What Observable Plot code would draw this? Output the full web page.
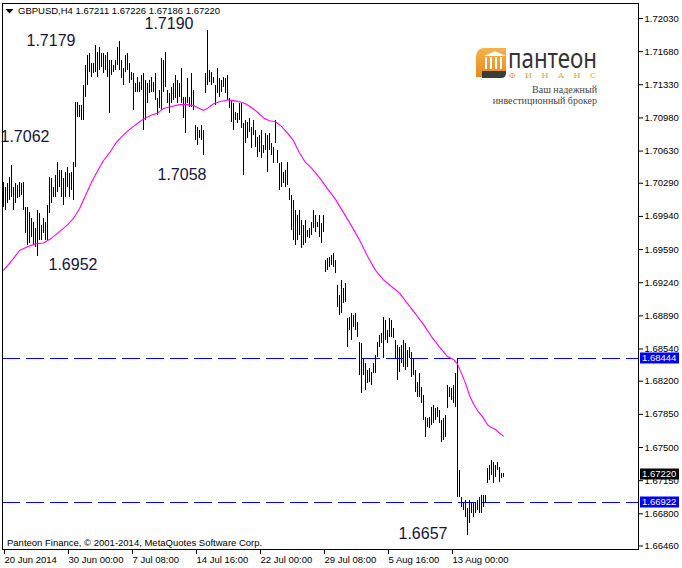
<!DOCTYPE html>
<html><head><meta charset="utf-8">
<script src="https://cdn.jsdelivr.net/npm/d3@7"></script>
<script src="https://cdn.jsdelivr.net/npm/@observablehq/plot@0.6"></script>
<style>
body{margin:0;background:#fff;}
#wrap{position:relative;width:682px;height:568px;overflow:hidden;background:#fff;}
.ov{position:absolute;white-space:nowrap;font-family:"Liberation Sans",Arial,sans-serif;}
</style></head><body><div id="wrap"></div>
<script>
const symbolName = "GBPUSD,H4";
const headerQuote = ["1.67211", "1.67226", "1.67186", "1.67220"];
const copyright = "Panteon Finance, © 2001-2014, MetaQuotes Software Corp.";
const brandName = "пантеон";
const brandSub = "ФИНАНС";
const tagline = ["Ваш надежный", "инвестиционный брокер"];

const barHigh = [
1.7030,1.7025,1.7029,1.7035,1.7048,1.7025,1.7029,1.7027,1.7030,1.7029,
1.7030,1.7003,1.7003,1.6998,1.6992,1.6988,1.6981,1.7000,1.6997,1.6984,
1.6992,1.6988,1.7006,1.7035,1.7034,1.7025,1.7037,1.7051,1.7042,1.7042,
1.7034,1.7040,1.7046,1.7039,1.7040,1.7051,1.7114,1.7114,1.7111,1.7111,
1.7132,1.7153,1.7164,1.7166,1.7155,1.7155,1.7174,1.7167,1.7172,1.7166,
1.7166,1.7164,1.7167,1.7159,1.7159,1.7153,1.7159,1.7172,1.7179,1.7159,
1.7150,1.7164,1.7166,1.7155,1.7146,1.7145,1.7134,1.7141,1.7135,1.7143,
1.7145,1.7138,1.7134,1.7138,1.7141,1.7135,1.7145,1.7119,1.7127,1.7161,
1.7159,1.7167,1.7127,1.7124,1.7130,1.7134,1.7143,1.7138,1.7134,1.7150,
1.7120,1.7120,1.7140,1.7120,1.7145,1.7127,1.7090,1.7088,1.7085,1.7090,
1.7085,1.7145,1.7190,1.7148,1.7146,1.7141,1.7132,1.7150,1.7140,1.7138,
1.7141,1.7140,1.7143,1.7119,1.7116,1.7113,1.7104,1.7103,1.7113,1.7113,
1.7092,1.7095,1.7093,1.7097,1.7088,1.7095,1.7085,1.7077,1.7079,1.7085,
1.7069,1.7082,1.7079,1.7082,1.7071,1.7067,1.7095,1.7064,1.7050,1.7051,
1.7040,1.7042,1.7051,1.7023,1.7016,1.7011,1.7000,1.6995,1.7000,1.6990,
1.6984,1.6990,1.6979,1.6981,1.6988,1.7000,1.6995,1.6988,1.6995,1.6987,
1.6995,1.6947,1.6950,1.6951,1.6953,1.6955,1.6947,1.6921,1.6910,1.6926,
1.6918,1.6923,1.6886,1.6887,1.6891,1.6889,1.6891,1.6882,1.6861,1.6860,
1.6844,1.6839,1.6831,1.6833,1.6829,1.6839,1.6847,1.6861,1.6868,1.6870,
1.6887,1.6884,1.6874,1.6886,1.6884,1.6876,1.6863,1.6858,1.6856,1.6858,
1.6863,1.6860,1.6852,1.6856,1.6850,1.6844,1.6831,1.6819,1.6828,1.6813,
1.6805,1.6782,1.6781,1.6782,1.6792,1.6794,1.6791,1.6792,1.6789,1.6778,
1.6781,1.6784,1.6815,1.6813,1.6812,1.6815,1.6828,1.6844,1.6726,1.6697,
1.6691,1.6694,1.6686,1.6694,1.6692,1.6691,1.6692,1.6694,1.6697,1.6699,
1.6699,1.6699,1.6728,1.6731,1.6736,1.6734,1.6731,1.6734,1.6729,1.6723,
1.67226];

const barLow = [
1.7003,1.7000,1.7008,1.7011,1.7014,1.7000,1.7008,1.7013,1.7014,1.7016,
1.7000,1.6976,1.6963,1.6965,1.6972,1.6963,1.6961,1.6952,1.6969,1.6969,
1.6976,1.6969,1.6969,1.6997,1.7008,1.7014,1.7014,1.7019,1.7025,1.7014,
1.7006,1.7014,1.7025,1.7014,1.7021,1.7011,1.7046,1.7098,1.7098,1.7095,
1.7095,1.7120,1.7132,1.7146,1.7141,1.7145,1.7146,1.7141,1.7148,1.7151,
1.7145,1.7148,1.7141,1.7103,1.7143,1.7146,1.7148,1.7153,1.7148,1.7140,
1.7132,1.7146,1.7148,1.7134,1.7138,1.7106,1.7125,1.7125,1.7125,1.7127,
1.7085,1.7095,1.7113,1.7124,1.7125,1.7125,1.7116,1.7101,1.7108,1.7106,
1.7125,1.7130,1.7113,1.7103,1.7113,1.7116,1.7119,1.7113,1.7120,1.7113,
1.7097,1.7082,1.7113,1.7109,1.7109,1.7106,1.7074,1.7069,1.7076,1.7074,
1.7058,1.7124,1.7132,1.7135,1.7132,1.7134,1.7111,1.7124,1.7120,1.7125,
1.7130,1.7124,1.7116,1.7108,1.7093,1.7085,1.7095,1.7092,1.7095,1.7087,
1.7037,1.7071,1.7076,1.7083,1.7066,1.7079,1.7067,1.7056,1.7061,1.7055,
1.7060,1.7064,1.7040,1.7064,1.7058,1.7050,1.7071,1.7050,1.7021,1.7025,
1.7029,1.7025,1.7027,1.7011,1.6979,1.6969,1.6963,1.6969,1.6974,1.6960,
1.6963,1.6965,1.6972,1.6971,1.6974,1.6981,1.6977,1.6982,1.6972,1.6965,
1.6977,1.6935,1.6937,1.6940,1.6942,1.6940,1.6934,1.6898,1.6889,1.6891,
1.6902,1.6903,1.6856,1.6874,1.6863,1.6877,1.6874,1.6866,1.6826,1.6807,
1.6826,1.6810,1.6818,1.6819,1.6815,1.6828,1.6828,1.6845,1.6856,1.6860,
1.6844,1.6863,1.6860,1.6866,1.6866,1.6865,1.6844,1.6821,1.6829,1.6839,
1.6834,1.6831,1.6834,1.6844,1.6824,1.6826,1.6808,1.6803,1.6803,1.6796,
1.6778,1.6761,1.6771,1.6770,1.6773,1.6775,1.6778,1.6782,1.6775,1.6755,
1.6757,1.6761,1.6791,1.6803,1.6800,1.6796,1.6792,1.6697,1.6697,1.6687,
1.6683,1.6676,1.6657,1.6670,1.6680,1.6676,1.6680,1.6683,1.6680,1.6680,
1.6687,1.6691,1.6712,1.6715,1.6720,1.6712,1.6718,1.6726,1.6713,1.6717,
1.67186];

const maIndex = [0,4,8,12,16,20,24,28,32,35,38,41,44,47,50,53,56,59,62,65,68,71,74,77,80,84,88,92,95,98,100,102,105,108,112,116,118,121,124,127,130,133,136,139,142,145,148,151,154,158,162,166,170,174,178,182,186,190,194,198,202,206,210,214,218,222,225,227,229,231,233,235,237,240,242,244,246,248,250];
const maValue = [1.6937,1.6947,1.6958,1.6962,1.6965,1.6966,1.6971,1.6978,1.6985,1.6992,1.7002,1.7016,1.7030,1.7042,1.7053,1.7061,1.7071,1.7078,1.7084,1.7089,1.7094,1.7098,1.7101,1.7103,1.7108,1.7110,1.7112,1.7112,1.7111,1.7108,1.7106,1.7108,1.7113,1.7115,1.7117,1.7116,1.7115,1.7113,1.7109,1.7104,1.7098,1.7095,1.7094,1.7089,1.7082,1.7074,1.7061,1.7051,1.7045,1.7035,1.7023,1.7012,1.6998,1.6984,1.6969,1.6952,1.6937,1.6927,1.6920,1.6913,1.6902,1.6891,1.6880,1.6867,1.6856,1.6846,1.6843,1.6838,1.6828,1.6818,1.6805,1.6796,1.6789,1.6781,1.6774,1.6771,1.6769,1.6765,1.6762];

const levelPrices = [1.68444, 1.66922];
const lastPrice = 1.67220;

const yTickValues = [1.72030,1.71680,1.71330,1.70980,1.70630,1.70290,1.69940,1.69590,1.69240,1.68890,1.68540,1.68200,1.67850,1.67500,1.67150,1.66800,1.66460];
const yTickLabels = ["1.72030","1.71680","1.71330","1.70980","1.70630","1.70290","1.69940","1.69590","1.69240","1.68890","1.68540","1.68200","1.67850","1.67500","1.67150","1.66800","1.66460"];

const xTickIndex = [0,32,64,96,128,160,192,224];
const xTickLabels = ["20 Jun 2014","30 Jun 00:00","7 Jul 08:00","14 Jul 16:00","22 Jul 00:00","29 Jul 08:00","5 Aug 16:00","13 Aug 00:00"];

const noteText  = ["1.7179","1.7190","1.7062","1.7058","1.6952","1.6657"];
const noteIndex = [11.5, 70.5, -1.5, 77, 22.5, 197.5];
const notePrice = [1.7179, 1.7197, 1.7078, 1.7038, 1.6943, 1.6659];

// ---- build tables ----
const bars = barHigh.map((h, i) => ({i, hi: h, lo: barLow[i]}));
const ma = maIndex.map((i, k) => ({i, v: maValue[k]}));
const notes = noteText.map((t, k) => ({t, i: noteIndex[k], p: notePrice[k]}));
const priceTags = [
  ...levelPrices.map(p => ({p, bg: "#0000ff"})),
  {p: lastPrice, bg: "#000000"}
];

const W = 682, H = 568, ML = 2, MR = 44, MT = 3, MB = 19;

const chart = Plot.plot({
  width: W, height: H,
  marginLeft: ML, marginRight: MR, marginTop: MT, marginBottom: MB,
  x: {type: "linear", domain: [-0.5, 317.5]},
  y: {domain: [1.66423, 1.72188]},
  style: {fontFamily: "'Liberation Sans', Arial, sans-serif", fontSize: "9.5px", color: "black", background: "white", overflow: "visible"},
  marks: [
    Plot.ruleY(levelPrices, {stroke: "#0000ff", strokeDasharray: "18,6", shapeRendering: "crispEdges"}),
    Plot.ruleX(bars, {x: "i", y1: "lo", y2: "hi", stroke: "black", strokeWidth: 1, shapeRendering: "crispEdges"}),
    Plot.line(ma, {x: "i", y: "v", stroke: "#ff00ff", strokeWidth: 1.1}),
    Plot.text(notes, {x: "i", y: "p", text: "t", textAnchor: "start", fontSize: 16, fill: "#14143c"}),
    Plot.frame({stroke: "black", shapeRendering: "crispEdges"}),
    Plot.axisY({anchor: "right", ticks: yTickValues, tickFormat: d => yTickLabels[yTickValues.indexOf(d)], tickSize: 4, tickPadding: 2, label: null}),
    Plot.axisX({anchor: "bottom", ticks: xTickIndex, tickFormat: d => xTickLabels[xTickIndex.indexOf(d)], tickSize: 5, tickPadding: 2, textAnchor: "start", dx: 1, label: null})
  ]
});

const wrap = document.getElementById("wrap");
wrap.appendChild(chart);

// price tags on the right axis, positioned with the chart's own y scale
const yScale = chart.scale("y");
const tagLayer = d3.select(chart).append("g").attr("class", "price-tags").attr("text-anchor", "start");
priceTags.forEach(t => {
  const yc = Math.round(yScale.apply(t.p));
  tagLayer.append("rect")
    .attr("x", W - MR + 2).attr("y", yc - 5.5)
    .attr("width", 39).attr("height", 11)
    .attr("fill", t.bg);
  tagLayer.append("text")
    .attr("x", W - MR + 4).attr("y", yc)
    .attr("dy", "0.34em")
    .attr("text-anchor", "start")
    .attr("fill", "white")
    .attr("font-size", "9.5px")
    .text(t.p.toFixed(5));
});

// header
const hdr = document.createElement("div");
hdr.className = "ov";
hdr.style.cssText = "left:18px;top:5px;font-size:9.5px;color:#000;";
hdr.textContent = symbolName + "  " + headerQuote.join(" ");
wrap.appendChild(hdr);
const tri = document.createElementNS("http://www.w3.org/2000/svg", "svg");
tri.setAttribute("width", "10"); tri.setAttribute("height", "8");
tri.style.cssText = "position:absolute;left:5px;top:8px;";
tri.innerHTML = '<polygon points="0.5,1 8.5,1 4.5,5.5" fill="#000"/>';
wrap.appendChild(tri);

// copyright
const cp = document.createElement("div");
cp.className = "ov";
cp.style.cssText = "left:7px;top:537px;font-size:9.5px;color:#000;";
cp.textContent = copyright;
wrap.appendChild(cp);

// logo (decoration)
const logo = document.createElementNS("http://www.w3.org/2000/svg", "svg");
logo.setAttribute("width", "140"); logo.setAttribute("height", "80");
logo.style.cssText = "position:absolute;left:470px;top:30px;overflow:visible;";
logo.innerHTML = `
<defs><linearGradient id="og" x1="0" y1="0" x2="0" y2="1"><stop offset="0" stop-color="#f7b24a"/><stop offset="1" stop-color="#e88a1c"/></linearGradient></defs>
<g transform="translate(4,17)">
<path d="M2,30 L2,10 Q2,1 11,1 L32,1 L32,24 L8,24 L8,30 Z" fill="url(#og)"/>
<polygon points="10,9 21,4 32,9" fill="#fff"/>
<rect x="11" y="10" width="2" height="12" fill="#fff"/>
<rect x="16" y="10" width="2" height="12" fill="#fff"/>
<rect x="21" y="10" width="2" height="12" fill="#fff"/>
<rect x="26" y="10" width="2" height="12" fill="#fff"/>
<path d="M8,24 L32,24 L32,26 Q32,31 27,31 L8,31 Z" fill="#3c3c3c"/>
</g>
<text x="38" y="38" font-family="'Noto Sans',sans-serif" font-size="27" fill="#333" textLength="89" lengthAdjust="spacingAndGlyphs">${brandName}</text>
<text x="39" y="48" font-family="'DejaVu Serif',serif" font-size="8" fill="#ee9a3a" textLength="87" lengthAdjust="spacing">${brandSub}</text>
<text x="127" y="63" text-anchor="end" font-family="'Liberation Serif',serif" font-size="10" fill="#444">${tagline[0]}</text>
<text x="127" y="74" text-anchor="end" font-family="'Liberation Serif',serif" font-size="10" fill="#444">${tagline[1]}</text>
`;
wrap.appendChild(logo);
</script></body></html>
